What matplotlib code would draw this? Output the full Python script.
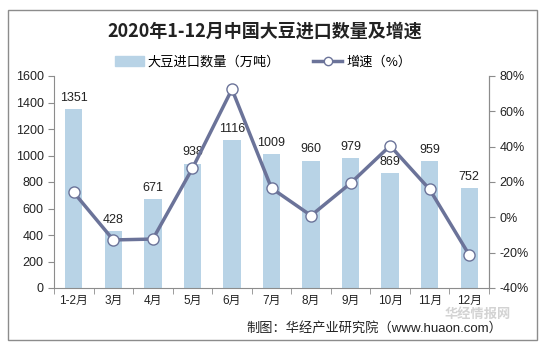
import matplotlib
matplotlib.use("Agg")
import matplotlib.pyplot as plt
from matplotlib.patches import Rectangle
from matplotlib.lines import Line2D
import numpy as np

categories = ["1-2月", "3月", "4月", "5月", "6月", "7月", "8月", "9月", "10月", "11月", "12月"]
volume = [1351, 428, 671, 938, 1116, 1009, 960, 979, 869, 959, 752]
growth = [14.1, -12.8, -12.3, 27.7, 72.5, 16.5, 1.0, 19.3, 40.5, 15.8, -21.3]
left_ticks = [0, 200, 400, 600, 800, 1000, 1200, 1400, 1600]
right_ticks = [-40, -20, 0, 20, 40, 60, 80]

plt.rcParams['font.family'] = ['Liberation Sans', 'Noto Sans CJK SC', 'DejaVu Sans']
cjk = ['Noto Sans CJK SC', 'DejaVu Sans']
mixed = ['Liberation Sans', 'Noto Sans CJK SC', 'DejaVu Sans']

W, H = 545, 350
fig = plt.figure(figsize=(W/100, H/100), dpi=100)
fig.patch.set_facecolor('white')

# outer border
fig.patches.append(Rectangle((8/W, 10/H), (537-8)/W, (340-10)/H, transform=fig.transFigure,
                             fill=False, edgecolor='#8c8c8c', linewidth=1.0))

ax = fig.add_axes([54/W, (350-288)/H, (489-54)/W, (288-76)/H])
bar_color = '#B8D3E6'
line_color = '#6B7399'
axis_color = '#8c8c8c'

x = np.arange(len(categories))
ax.bar(x, volume, width=0.44, color=bar_color, zorder=1)
for xi, v in zip(x, volume):
    ax.text(xi, v + 40, str(v), ha='center', va='bottom', fontsize=9, color='#222222', zorder=5)

ax.set_ylim(0, 1600)
ax.set_yticks(left_ticks)
ax.set_xlim(-0.5, len(categories) - 0.5)
ax.set_xticks(x)
ax.set_xticklabels(categories, fontsize=8.5, family=mixed, color='#222222')
ax.set_xticks(np.arange(-0.5, len(categories), 1), minor=True)
ax.tick_params(axis='x', which='major', length=0, pad=5)
ax.tick_params(axis='x', which='minor', length=4, color=axis_color, direction='out')
ax.tick_params(axis='y', labelsize=9, length=4, color=axis_color, labelcolor='#222222')
ax.spines['top'].set_visible(False)
for s in ['left', 'bottom', 'right']:
    ax.spines[s].set_color(axis_color)

ax2 = ax.twinx()
ax2.plot(x, growth, color=line_color, linewidth=2.5, marker='o', markersize=8,
         markerfacecolor='white', markeredgecolor=line_color, markeredgewidth=1.0, zorder=3)
ax2.set_ylim(-40, 80)
ax2.set_yticks(right_ticks)
ax2.set_yticklabels([f"{t}%" for t in right_ticks])
ax2.tick_params(axis='y', labelsize=9, length=4, color=axis_color, labelcolor='#222222')
for s in ['top', 'left', 'bottom']:
    ax2.spines[s].set_visible(False)
ax2.spines['right'].set_color(axis_color)

# title
fig.text(265/W, 1 - 31/H, "2020年1-12月中国大豆进口数量及增速", ha='center', va='center',
         fontsize=13, fontweight='bold', family=cjk, color='#222222')

# legend
handles = [Rectangle((0, 0), 1, 1, color=bar_color),
           Line2D([0], [0], color=line_color, linewidth=2.5, marker='o', markersize=6,
                  markerfacecolor='white', markeredgecolor=line_color)]
fig.legend(handles, ["大豆进口数量（万吨）", "增速（%）"], loc='center', bbox_to_anchor=(263/W, 1 - 62/H),
           ncol=2, frameon=False, prop={'family': cjk, 'size': 9.5}, handlelength=2.2,
           columnspacing=2.5, handletextpad=0.3)

# watermark
fig.text(478/W, 1 - 314/H, "华经情报网", ha='center', va='center', fontsize=9.5, fontweight='bold',
         family=cjk, color='#c8c8c8', alpha=0.8)

# source
fig.text(502/W, 1 - 328/H, "制图：华经产业研究院（www.huaon.com）", ha='right', va='center',
         fontsize=9.5, family=mixed, color='#222222')

fig.savefig("out.png", dpi=100, facecolor='white')
